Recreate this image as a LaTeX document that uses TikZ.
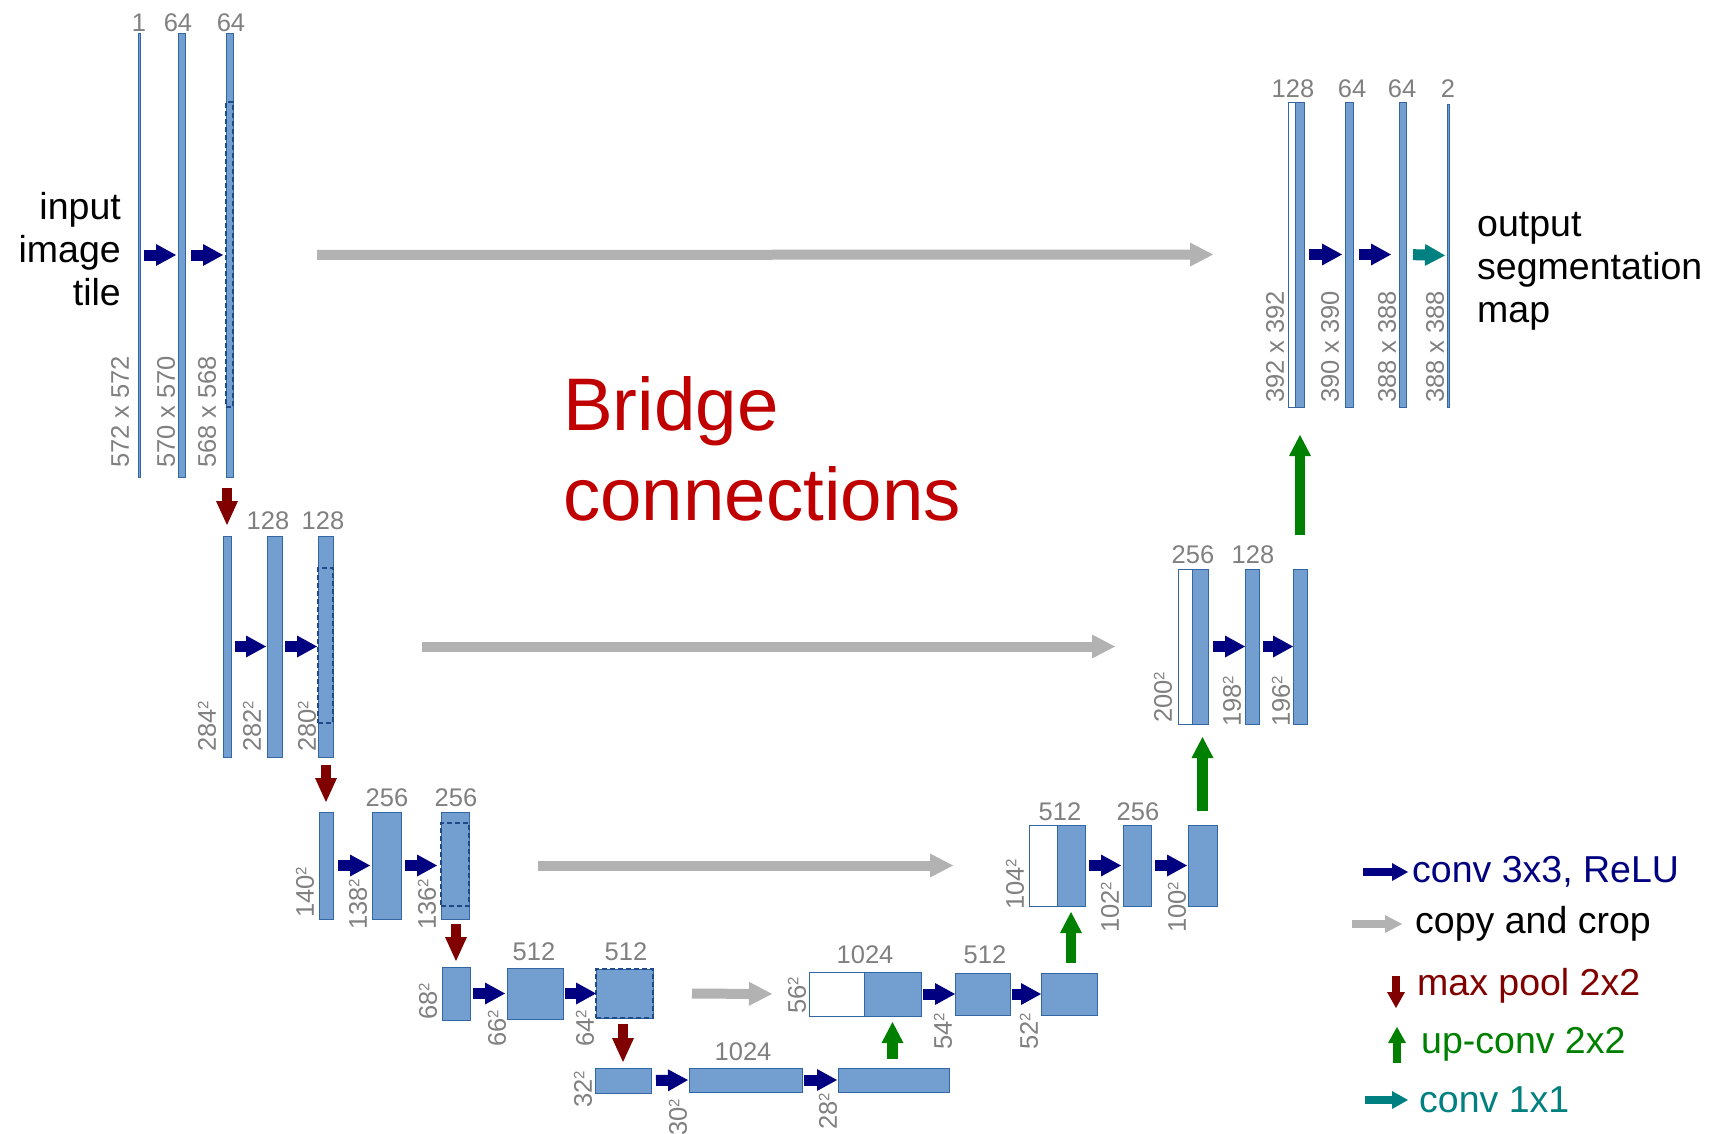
\documentclass[tikz,border=0pt]{standalone}
\usepackage{fontspec}
\setmainfont{Liberation Sans}
\usetikzlibrary{arrows.meta,fit}
\definecolor{barfill}{RGB}{114,159,207}
\definecolor{barline}{RGB}{52,101,164}
\definecolor{dashc}{RGB}{32,74,135}
\definecolor{lblgray}{RGB}{128,128,128}
\definecolor{convc}{RGB}{0,0,128}
\definecolor{copyc}{RGB}{178,178,178}
\definecolor{poolc}{RGB}{128,0,0}
\definecolor{upc}{RGB}{0,128,0}
\definecolor{onec}{RGB}{0,128,128}
\definecolor{bridgec}{RGB}{192,0,0}
\newcommand{\sqtwo}{{\fontsize{15}{15}\selectfont\raisebox{7.5pt}{2}}}
\begin{document}
\begin{tikzpicture}[x=1pt,y=-1pt,
  bar/.style={draw=barline, fill=barfill, line width=1pt, inner sep=0pt, outer sep=0pt},
  wbar/.style={draw=barline, fill=white, line width=1pt, inner sep=0pt, outer sep=0pt},
  thinbar/.style={draw=barline, fill=barfill, line width=0.8pt, inner sep=0pt, outer sep=0pt},
  crop/.style={draw=dashc, line width=2.6pt, dash pattern=on 5pt off 3pt, inner sep=0pt, outer sep=0pt},
  num/.style={text=lblgray, font=\fontsize{25.5}{30}\selectfont, inner sep=0pt},
  dimlbl/.style={num, rotate=90, anchor=west},
  conv/.style={draw=convc, line width=11pt, -{Triangle[length=20pt,width=22pt,line width=0pt]}},
  onebyone/.style={draw=onec, line width=11pt, -{Triangle[length=20pt,width=22pt,line width=0pt]}},
  copyarr/.style={draw=copyc, line width=10pt, -{Triangle[length=23pt,width=24pt,line width=0pt]}},
  pool/.style={draw=poolc, line width=10pt, -{Triangle[length=24pt,width=22pt,line width=0pt]}},
  upconv/.style={draw=upc, line width=10.5pt, -{Triangle[length=21pt,width=22pt,line width=0pt]}},
  bigtext/.style={font=\fontsize{37.5}{43}\selectfont, inner sep=0pt},
  legtext/.style={font=\fontsize{37.5}{43}\selectfont, inner sep=0pt, anchor=west},
  lconv/.style={draw=convc, line width=8pt, -{Triangle[length=16pt,width=18pt,line width=0pt]}},
  lone/.style={draw=onec, line width=8pt, -{Triangle[length=16pt,width=18pt,line width=0pt]}},
  lcopy/.style={draw=copyc, line width=8pt, -{Triangle[length=17pt,width=18pt,line width=0pt]}},
  lpool/.style={draw=poolc, line width=8pt, -{Triangle[length=16pt,width=18pt,line width=0pt]}},
  lup/.style={draw=upc, line width=8pt, -{Triangle[length=16pt,width=18pt,line width=0pt]}},
]
\useasboundingbox (0,0) rectangle (1714,1133);
\fill[white] (0,0) rectangle (1714,1133);

% ---------- contracting path, level 1
\node[thinbar, fit={(138,33) (140,477)}] (a1) {};
\node[bar, fit={(178,33) (185,477)}] (a2) {};
\node[bar, fit={(226,33) (233,477)}] (a3) {};
\node[crop, fit={(226,102) (233,407)}] (a3c) {};
\node[num] (ta1) at (139,23) {1};
\node[num] (ta2) at (178,23) {64};
\node[num] (ta3) at (231,23) {64};
\node[dimlbl] (da1) at (120,468) {572 x 572};
\node[dimlbl] (da2) at (166,468) {570 x 570};
\node[dimlbl] (da3) at (207,468) {568 x 568};
\node[bigtext, anchor=east, align=right] (input) at (121,249) {input\\image\\tile};

% ---------- level 2
\node[bar, fit={(223,536) (231,757)}] (b1) {};
\node[bar, fit={(267,536) (282,757)}] (b2) {};
\node[bar, fit={(318,536) (333,757)}] (b3) {};
\node[crop, fit={(318,568) (333,723)}] (b3c) {};
\node[num] (tb2) at (268,521) {128};
\node[num] (tb3) at (323,521) {128};
\node[dimlbl] (db1) at (207,752) {284\sqtwo};
\node[dimlbl] (db2) at (252,752) {282\sqtwo};
\node[dimlbl] (db3) at (307,752) {280\sqtwo};

% ---------- level 3
\node[bar, fit={(319,812) (333,919)}] (c1) {};
\node[bar, fit={(372,812) (401,919)}] (c2) {};
\node[bar, fit={(441,812) (469,919)}] (c3) {};
\node[crop, fit={(441,823) (469,906)}] (c3c) {};
\node[num] (tc2) at (387,798) {256};
\node[num] (tc3) at (456,798) {256};
\node[dimlbl] (dc1) at (305,918) {140\sqtwo};
\node[dimlbl] (dc2) at (358,930) {138\sqtwo};
\node[dimlbl] (dc3) at (427,930) {136\sqtwo};

% ---------- level 4
\node[bar, fit={(442,967) (470,1020)}] (d1) {};
\node[bar, fit={(507,968) (563,1019)}] (d2) {};
\node[bar, fit={(596,969) (653,1018)}] (d3) {};
\node[crop, fit={(596,969) (653,1018)}] (d3c) {};
\node[num] (td2) at (534,952) {512};
\node[num] (td3) at (626,952) {512};
\node[dimlbl] (dd1) at (428,1020) {68\sqtwo};
\node[dimlbl] (dd2) at (497,1047) {66\sqtwo};
\node[dimlbl] (dd3) at (585,1047) {64\sqtwo};

% ---------- bottom
\node[bar, fit={(595,1068) (651,1093)}] (e1) {};
\node[bar, fit={(689,1068) (802,1092)}] (e2) {};
\node[bar, fit={(838,1068) (949,1092)}] (e3) {};
\node[num] (te2) at (743,1052) {1024};
\node[dimlbl] (de1) at (583,1108) {32\sqtwo};
\node[dimlbl] (de2) at (678,1136) {30\sqtwo};
\node[dimlbl] (de3) at (828,1130) {28\sqtwo};

% ---------- expanding path, level 4
\node[wbar, fit={(809,972) (864,1016)}] (f0) {};
\node[bar, fit={(864,972) (921,1016)}] (f1) {};
\node[bar, fit={(955,973) (1010,1015)}] (f2) {};
\node[bar, fit={(1041,973) (1097,1015)}] (f3) {};
\node[num] (tf1) at (865,955) {1024};
\node[num] (tf2) at (985,955) {512};
\node[dimlbl] (df0) at (797,1014) {56\sqtwo};
\node[dimlbl] (df2) at (943,1050) {54\sqtwo};
\node[dimlbl] (df3) at (1029,1050) {52\sqtwo};

% ---------- expanding path, level 3
\node[wbar, fit={(1029,825) (1057,906)}] (g0) {};
\node[bar, fit={(1057,825) (1085,906)}] (g1) {};
\node[bar, fit={(1123,825) (1151,906)}] (g2) {};
\node[bar, fit={(1188,825) (1217,906)}] (g3) {};
\node[num] (tg1) at (1060,812) {512};
\node[num] (tg2) at (1138,812) {256};
\node[dimlbl] (dg0) at (1015,910) {104\sqtwo};
\node[dimlbl] (dg2) at (1110,933) {102\sqtwo};
\node[dimlbl] (dg3) at (1177,933) {100\sqtwo};

% ---------- expanding path, level 2
\node[wbar, fit={(1178,569) (1192,724)}] (h0) {};
\node[bar, fit={(1192,569) (1208,724)}] (h1) {};
\node[bar, fit={(1245,569) (1259,724)}] (h2) {};
\node[bar, fit={(1293,569) (1307,724)}] (h3) {};
\node[num] (th1) at (1193,555) {256};
\node[num] (th2) at (1253,555) {128};
\node[dimlbl] (dh0) at (1163,723) {200\sqtwo};
\node[dimlbl] (dh2) at (1232,727) {198\sqtwo};
\node[dimlbl] (dh3) at (1281,727) {196\sqtwo};

% ---------- expanding path, level 1
\node[wbar, fit={(1288,102) (1295,407)}] (i0) {};
\node[bar, fit={(1295,102) (1304,407)}] (i1) {};
\node[bar, fit={(1345,102) (1353,407)}] (i2) {};
\node[bar, fit={(1399,102) (1406,407)}] (i3) {};
\node[thinbar, fit={(1447,104) (1449,407)}] (i4) {};
\node[num] (ti1) at (1293,89) {128};
\node[num] (ti2) at (1352,89) {64};
\node[num] (ti3) at (1402,89) {64};
\node[num] (ti4) at (1448,89) {2};
\node[dimlbl] (di0) at (1275,403) {392 x 392};
\node[dimlbl] (di2) at (1330,403) {390 x 390};
\node[dimlbl] (di3) at (1387,403) {388 x 388};
\node[dimlbl] (di4) at (1435,403) {388 x 388};
\node[bigtext, anchor=west, align=left] (output) at (1477,271) {output\\segmentation\\map};

% ---------- conv arrows
\draw[conv, shorten <=4pt, shorten >=2pt] (a1.east) -- (a2.west);
\draw[conv, shorten <=6pt, shorten >=3pt] (a2.east) -- (a3.west);
\draw[conv, shorten <=4pt, shorten >=1pt] (b1.east) -- (b2.west);
\draw[conv, shorten <=3pt, shorten >=1pt] (b2.east) -- (b3.west);
\draw[conv, shorten <=5pt, shorten >=2pt] (c1.east) -- (c2.west);
\draw[conv, shorten <=4pt, shorten >=4pt] (c2.east) -- (c3.west);
\draw[conv, shorten <=3pt, shorten >=2pt] (d1.east) -- (d2.west);
\draw[conv, shorten <=2pt, shorten >=0pt] (d2.east) -- (d3.west);
\draw[conv, shorten <=5pt, shorten >=1pt] (e1.east) -- (e2.west);
\draw[conv, shorten <=2pt, shorten >=1pt] (e2.east) -- (e3.west);
\draw[conv, shorten <=2pt, shorten >=0pt] (f1.east) -- (f2.west);
\draw[conv, shorten <=2pt, shorten >=0pt] (f2.east) -- (f3.west);
\draw[conv, shorten <=4pt, shorten >=2pt] (g1.east) -- (g2.west);
\draw[conv, shorten <=4pt, shorten >=1pt] (g2.east) -- (g3.west);
\draw[conv, shorten <=5pt, shorten >=0pt] (h1.east) -- (h2.west);
\draw[conv, shorten <=4pt, shorten >=0pt] (h2.east) -- (h3.west);
\draw[conv, shorten <=5pt, shorten >=3pt] (i1.east) -- (i2.west);
\draw[conv, shorten <=6pt, shorten >=8pt] (i2.east) -- (i3.west);
\draw[onebyone, shorten <=7pt, shorten >=2pt] (i3.east) -- (i4.west);

% ---------- copy and crop
\draw[copyarr, shorten <=84pt, shorten >=75pt] (a3.east) -- (i0.west);
\draw[copyarr, shorten <=89pt, shorten >=63pt] (b3.east) -- (h0.west);
\draw[copyarr, shorten <=69pt, shorten >=76pt] (c3.east) -- (g0.west);
\draw[copyarr, shorten <=39pt, shorten >=37pt] (d3.east) -- (f0.west);

% ---------- max pool
\draw[pool, shorten <=11pt, shorten >=11pt] (a3.south -| b1.north) -- (b1.north);
\draw[pool, shorten <=8pt, shorten >=10pt] (b3.south -| c1.north) -- (c1.north);
\draw[pool, shorten <=5pt, shorten >=6pt] (c3.south -| d1.north) -- (d1.north);
\draw[pool, shorten <=6pt, shorten >=6pt] (d3.south -| e1.north) -- (e1.north);

% ---------- up-conv
\draw[upconv, shorten <=9pt, shorten >=6pt] (e3.north -| f1.south) -- (f1.south);
\draw[upconv, shorten <=10pt, shorten >=6pt] (f3.north -| g1.south) -- (g1.south);
\draw[upconv, shorten <=14pt, shorten >=13pt] (g3.north) -- (g3.north |- h1.south);
\draw[upconv, shorten <=34pt, shorten >=28pt] (h3.north) -- (h3.north |- i1.south);

% ---------- bridge text
\node[font=\fontsize{74.5}{90}\selectfont, text=bridgec, anchor=west, align=left, inner sep=0pt] (bridge) at (563,449) {Bridge\\connections};

% ---------- legend
\coordinate (l1s) at (1363,872); \coordinate (l1e) at (1408,872);
\coordinate (l2s) at (1352,924); \coordinate (l2e) at (1402,924);
\coordinate (l3s) at (1396,976); \coordinate (l3e) at (1396,1008);
\coordinate (l4s) at (1397,1063); \coordinate (l4e) at (1397,1027);
\coordinate (l5s) at (1365,1100); \coordinate (l5e) at (1408,1100);
\draw[lconv] (l1s) -- (l1e);
\draw[lcopy] (l2s) -- (l2e);
\draw[lpool] (l3s) -- (l3e);
\draw[lup] (l4s) -- (l4e);
\draw[lone] (l5s) -- (l5e);
\node[legtext, text=convc] (lt1) at (1412,872) {conv 3x3, ReLU};
\node[legtext, text=black] (lt2) at (1415,924) {copy and crop};
\node[legtext, text=poolc] (lt3) at (1417,986) {max pool 2x2};
\node[legtext, text=upc] (lt4) at (1421,1044) {up-conv 2x2};
\node[legtext, text=onec] (lt5) at (1419,1100) {conv 1x1};
\end{tikzpicture}
\end{document}
